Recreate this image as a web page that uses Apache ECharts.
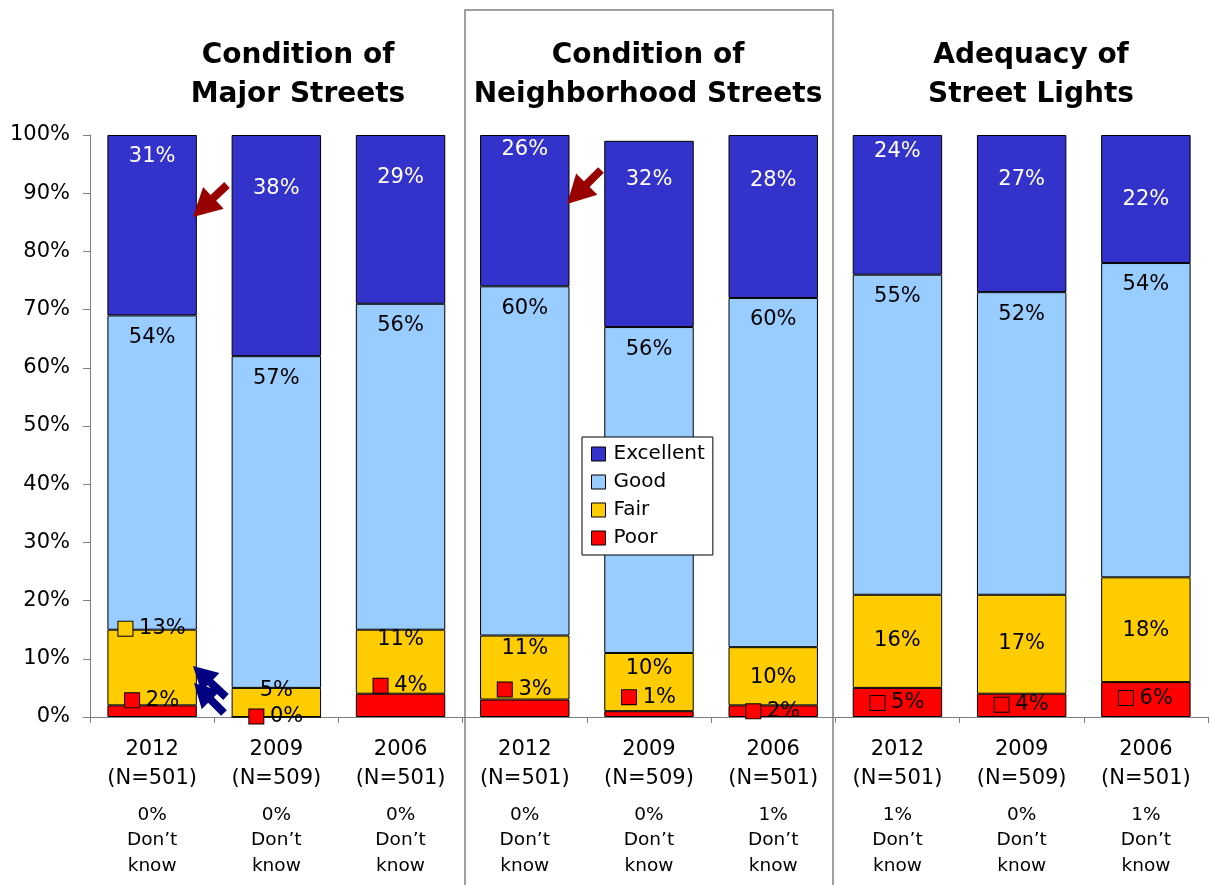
<!DOCTYPE html>
<html>
<head>
<meta charset="utf-8">
<script src="https://cdn.jsdelivr.net/npm/echarts@6/dist/echarts.min.js"></script>
<style>html,body{margin:0;padding:0;background:#fff}#c{width:1210px;height:885px}</style>
</head>
<body>
<div id="c"></div>
<script>
// ---- data ----
var categories = ['Major 2012','Major 2009','Major 2006','Neighborhood 2012','Neighborhood 2009','Neighborhood 2006','Lights 2012','Lights 2009','Lights 2006'];
var years = ['2012','2009','2006','2012','2009','2006','2012','2009','2006'];
var sampleSizes = ['(N=501)','(N=509)','(N=501)','(N=501)','(N=509)','(N=501)','(N=501)','(N=509)','(N=501)'];
var dontKnow = ['0%','0%','0%','0%','0%','1%','1%','0%','1%'];
var poor      = [2, 0, 4, 3, 1, 2, 5, 4, 6];
var fair      = [13, 5, 11, 11, 10, 10, 16, 17, 18];
var good      = [54, 57, 56, 60, 56, 60, 55, 52, 54];
var excellent = [31, 38, 29, 26, 32, 28, 24, 27, 22];
var panelTitles = ['Condition of\nMajor Streets', 'Condition of\nNeighborhood Streets', 'Adequacy of\nStreet Lights'];
var yTicks = [0, 10, 20, 30, 40, 50, 60, 70, 80, 90, 100];

// ---- label placement nudges (layout only) ----
var excDy  = [12, 44, 33, 5, 29, 36, 7, 35, 55];
var fairDy = [-11, -7, 0, 3, 6, 20, 36, 39, 43];
var poorDy = [-15, -10, -18, -20, -24, -4, 5, 1, 6];
var fairKey = [true, false, false, false, false, false, false, false, false];

var FONT = 'DejaVu Sans';
var C = {exc:'#3333CC', good:'#99CCFF', fair:'#FFCC00', poor:'#FF0000'};

function items(vals, dys) {
  return vals.map(function (v, i) {
    var o = {value: v};
    if (dys) o.label = {offset: [0, dys[i]]};
    return o;
  });
}
function sqRich(col) {
  return {
    sq: {width: 14, height: 14, backgroundColor: col, borderColor: '#000', borderWidth: 1, verticalAlign: 'middle'},
    t: {fontFamily: FONT, fontSize: 21, color: '#000', lineHeight: 20, verticalAlign: 'middle'}
  };
}

var chart = echarts.init(document.getElementById('c'), null, {renderer: 'canvas'});

function arrow(x1, y1, x2, y2, hl, hw, sw, color) {
  var dx = x2 - x1, dy = y2 - y1, L = Math.sqrt(dx*dx + dy*dy);
  var ux = dx / L, uy = dy / L, px = -uy, py = ux;
  var bx = x2 - ux * hl, by = y2 - uy * hl;
  var pts = [
    [x1 + px*sw/2, y1 + py*sw/2],
    [bx + px*sw/2, by + py*sw/2],
    [bx + px*hw/2, by + py*hw/2],
    [x2, y2],
    [bx - px*hw/2, by - py*hw/2],
    [bx - px*sw/2, by - py*sw/2],
    [x1 - px*sw/2, y1 - py*sw/2]
  ];
  return {type: 'polygon', shape: {points: pts}, style: {fill: color}, z: 100};
}

var option = {
  animation: false,
  backgroundColor: '#fff',
  title: [
    {text: panelTitles[0], left: 298, top: 36},
    {text: panelTitles[1], left: 648, top: 36},
    {text: panelTitles[2], left: 1031, top: 36}
  ].map(function (t) {
    t.textAlign = 'center';
    t.padding = 0;
    t.textStyle = {fontFamily: FONT, fontSize: 28, fontWeight: 'bold', color: '#000', lineHeight: 39};
    return t;
  }),
  legend: {
    data: ['Excellent', 'Good', 'Fair', 'Poor'],
    orient: 'vertical',
    left: 582, top: 437,
    backgroundColor: '#fff',
    borderColor: '#000', borderWidth: 1,
    padding: [7, 8, 7, 9],
    itemGap: 8,
    itemWidth: 14, itemHeight: 14,
    icon: 'rect',
    itemStyle: {borderColor: '#000', borderWidth: 1},
    textStyle: {fontFamily: FONT, fontSize: 20, color: '#000', padding: [0, 0, 0, 3]},
    z: 50
  },
  grid: {left: 90, right: 2, top: 135, bottom: 168, containLabel: false},
  xAxis: {
    type: 'category',
    data: categories,
    axisLine: {lineStyle: {color: '#808080', width: 1}},
    axisTick: {show: true, length: 6, lineStyle: {color: '#808080'}},
    axisLabel: {
      interval: 0,
      margin: 18,
      formatter: function (v, i) {
        return '{y|' + years[i] + '}\n{y|' + sampleSizes[i] + '}\n{s| }\n{d|' + dontKnow[i] + '}\n{d|Don\u2019t}\n{d|know}';
      },
      rich: {
        y: {fontFamily: FONT, fontSize: 21, color: '#000', lineHeight: 29, align: 'center'},
        s: {fontSize: 4, lineHeight: 9},
        d: {fontFamily: FONT, fontSize: 18.5, color: '#000', lineHeight: 25.5, align: 'center'}
      }
    }
  },
  yAxis: {
    type: 'value',
    min: yTicks[0], max: yTicks[yTicks.length - 1], interval: yTicks[1] - yTicks[0],
    splitLine: {show: false},
    axisLine: {show: true, lineStyle: {color: '#808080', width: 1}},
    axisTick: {show: true, length: 7, lineStyle: {color: '#808080'}},
    axisLabel: {formatter: '{value}%', fontFamily: FONT, fontSize: 21, color: '#000', margin: 20}
  },
  series: [
    {
      name: 'Poor', type: 'bar', stack: 's', barWidth: '72%',
      data: items(poor, poorDy),
      itemStyle: {color: C.poor, borderColor: '#000', borderWidth: 1},
      label: {
        show: true, position: 'insideTop', distance: 0,
        formatter: function (p) { return '{sq|}{t| ' + p.value + '%}'; },
        rich: sqRich(C.poor)
      }
    },
    {
      name: 'Fair', type: 'bar', stack: 's',
      data: items(fair, fairDy),
      itemStyle: {color: C.fair, borderColor: '#000', borderWidth: 1},
      label: {
        show: true, position: 'insideTop', distance: 0,
        formatter: function (p) { return fairKey[p.dataIndex] ? '{sq|}{t| ' + p.value + '%}' : '{t|' + p.value + '%}'; },
        rich: sqRich(C.fair)
      }
    },
    {
      name: 'Good', type: 'bar', stack: 's',
      data: items(good),
      itemStyle: {color: C.good, borderColor: '#000', borderWidth: 1},
      label: {
        show: true, position: 'insideTop', distance: 12,
        formatter: '{c}%', fontFamily: FONT, fontSize: 21, color: '#000', lineHeight: 20
      }
    },
    {
      name: 'Excellent', type: 'bar', stack: 's',
      data: items(excellent, excDy),
      itemStyle: {color: C.exc, borderColor: '#000', borderWidth: 1},
      label: {
        show: true, position: 'insideTop', distance: 0,
        formatter: '{c}%', fontFamily: FONT, fontSize: 21, color: '#fff', lineHeight: 20
      }
    }
  ],
  graphic: [
    {type: 'rect', shape: {x: 465, y: 10, width: 368, height: 890}, style: {fill: 'none', stroke: '#808080', lineWidth: 1.5}, z: 1, silent: true},
    arrow(227, 185, 193, 217, 28, 30, 8, '#990000'),
    arrow(601, 170, 567, 204, 28, 30, 8, '#990000'),
    arrow(226, 697, 193, 666, 24, 26, 8, '#000080'),
    arrow(224, 713, 194, 683, 24, 26, 8, '#000080')
  ]
};
chart.setOption(option);
</script>
</body>
</html>
